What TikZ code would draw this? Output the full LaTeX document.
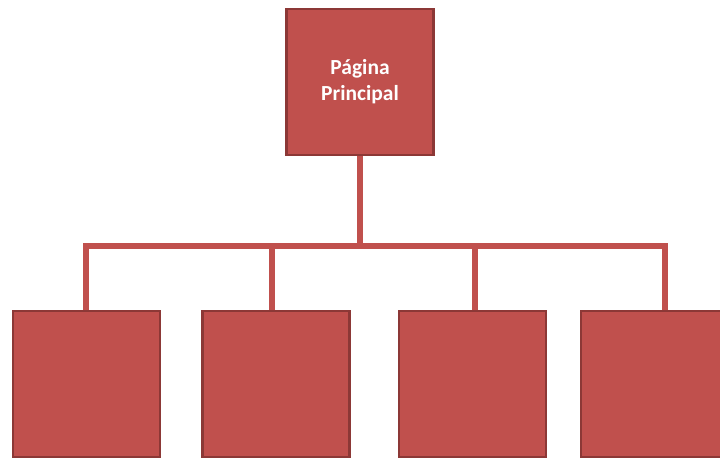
\documentclass[tikz,border=0pt]{standalone}
\usepackage{fontspec}
\setmainfont{Carlito}
\definecolor{boxred}{HTML}{C0504D}
\definecolor{boxedge}{HTML}{8C3836}
\tikzset{
  caixa/.style={draw=boxedge, fill=boxred, line width=2.2pt, minimum width=147pt, minimum height=146pt, inner sep=0pt},
  ligacao/.style={draw=boxred, line width=6.5pt, line join=miter}
}
\begin{document}
\begin{tikzpicture}[x=1pt,y=-1pt]
\useasboundingbox (0,0) rectangle (720,459);

% caixas
\node[caixa, text=white, align=center, font=\bfseries\fontsize{21.5}{26}\selectfont] (pp) at (360,82) {Página\\Principal};
\node[caixa] (b1) at (86.5,384) {};
\node[caixa] (b2) at (276,384) {};
\node[caixa] (b3) at (472.5,384) {};
\node[caixa] (b4) at (654.5,384) {};

% ligacoes
\coordinate (barra) at (0,246);
\coordinate (d1) at ([xshift=-0.5pt]b1.north);
\coordinate (d2) at ([xshift=-4pt]b2.north);
\coordinate (d3) at ([xshift=2.5pt]b3.north);
\coordinate (d4) at ([xshift=10.5pt]b4.north);
\draw[ligacao] (pp.south) -- (pp.south |- barra);
\draw[ligacao] (d1) -- (d1 |- barra) -- (d4 |- barra) -- (d4);
\draw[ligacao] (d2 |- barra) -- (d2);
\draw[ligacao] (d3 |- barra) -- (d3);

\end{tikzpicture}
\end{document}
